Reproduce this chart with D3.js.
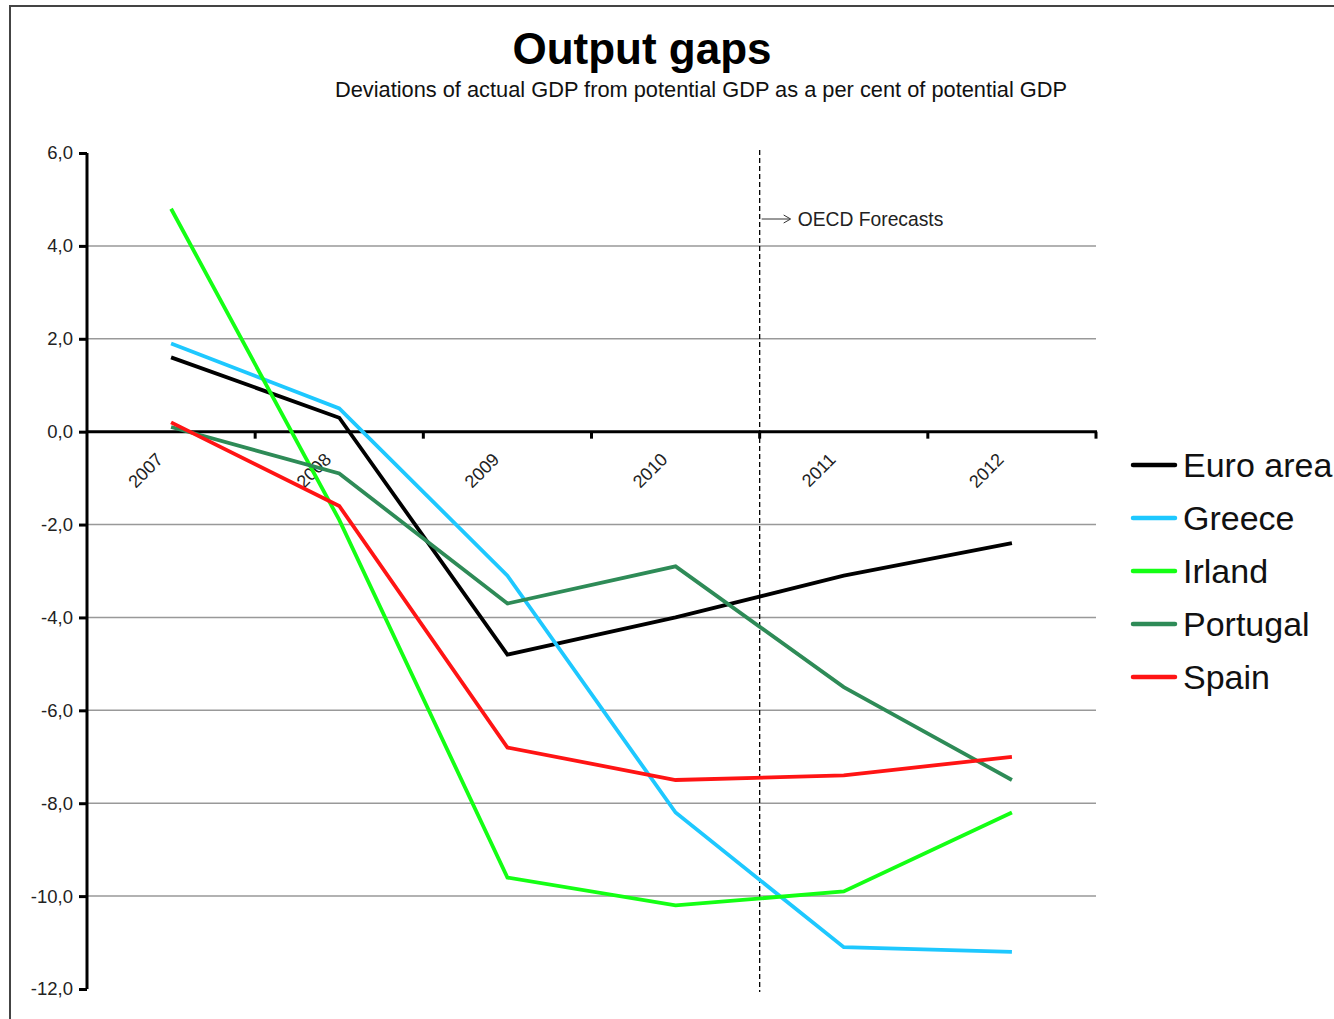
<!DOCTYPE html>
<html>
<head>
<meta charset="utf-8">
<script src="https://cdn.jsdelivr.net/npm/d3@7"></script>
<style>
  html, body { margin: 0; padding: 0; background: #fff; }
  svg { display: block; font-family: "Liberation Sans", Arial, sans-serif; }
</style>
</head>
<body>
<svg id="chart" width="1334" height="1019"></svg>
<script>
// Output gaps, 2007-2012 (per cent of potential GDP)
const years = ["2007", "2008", "2009", "2010", "2011", "2012"];
const euroArea = [1.6, 0.3, -4.8, -4.0, -3.1, -2.4];
const greece   = [1.9, 0.5, -3.1, -8.2, -11.1, -11.2];
const irland   = [4.8, -1.9, -9.6, -10.2, -9.9, -8.2];
const portugal = [0.1, -0.9, -3.7, -2.9, -5.5, -7.5];
const spain    = [0.2, -1.6, -6.8, -7.5, -7.4, -7.0];
const seriesNames = ["Euro area", "Greece", "Irland", "Portugal", "Spain"];
const seriesColors = ["#000000", "#1ec8ff", "#14ff14", "#2e8b57", "#ff1414"];
const yTicks = [6, 4, 2, 0, -2, -4, -6, -8, -10, -12];
const forecastStart = "2011";

const series = [euroArea, greece, irland, portugal, spain].map((v, i) => ({
  name: seriesNames[i], color: seriesColors[i], values: v
}));

const svg = d3.select("#chart");

// outer frame
svg.append("rect")
  .attr("x", 10).attr("y", 6).attr("width", 1340).attr("height", 1030)
  .attr("fill", "none").attr("stroke", "#444").attr("stroke-width", 2);

// titles
svg.append("text").attr("x", 642).attr("y", 64).attr("text-anchor", "middle")
  .attr("font-size", 44).attr("font-weight", "bold").attr("fill", "#000")
  .text("Output gaps");
svg.append("text").attr("x", 701).attr("y", 97).attr("text-anchor", "middle")
  .attr("font-size", 21.8).attr("fill", "#111")
  .text("Deviations of actual GDP from potential GDP as a per cent of potential GDP");

const x = d3.scaleBand().domain(years).range([87, 1096]);
const y = d3.scaleLinear().domain([-12, 6]).range([989, 153]);
const xc = d => x(d) + x.bandwidth() / 2;

// horizontal grid lines
svg.append("g").selectAll("line")
  .data(yTicks.filter(t => t !== 0 && t !== 6 && t !== -12))
  .join("line")
  .attr("x1", 87).attr("x2", 1096)
  .attr("y1", d => y(d)).attr("y2", d => y(d))
  .attr("stroke", "#999").attr("stroke-width", 1.5);

// y axis
const yAxis = svg.append("g").attr("transform", "translate(87,0)")
  .call(d3.axisLeft(y).tickValues(yTicks).tickSize(8).tickPadding(6)
    .tickFormat(d => d3.format(".1f")(d).replace(".", ",").replace("−", "-")));
yAxis.attr("font-size", null).attr("font-family", null);
yAxis.select(".domain").attr("stroke", "#000").attr("stroke-width", 3)
  .attr("d", `M0,${y(6)}V${y(-12)}`);
yAxis.selectAll(".tick line").attr("stroke", "#000").attr("stroke-width", 3);
yAxis.selectAll(".tick text").attr("font-size", 18.5).attr("fill", "#222");

// x axis along zero, with ticks at category boundaries
const xAxisG = svg.append("g");
xAxisG.append("line").attr("x1", 87).attr("x2", 1097)
  .attr("y1", y(0)).attr("y2", y(0)).attr("stroke", "#000").attr("stroke-width", 3);
const boundaries = years.map(d => x(d)).concat([x(years[years.length - 1]) + x.bandwidth()]);
xAxisG.selectAll("line.tk").data(boundaries.slice(1)).join("line").attr("class", "tk")
  .attr("x1", d => d).attr("x2", d => d)
  .attr("y1", y(0)).attr("y2", y(0) + 7)
  .attr("stroke", "#000").attr("stroke-width", 3);
xAxisG.selectAll("text").data(years).join("text")
  .attr("transform", d => `translate(${xc(d) - 7},${y(0) + 29}) rotate(-45)`)
  .attr("text-anchor", "end").attr("font-size", 18).attr("fill", "#222")
  .text(d => d);

// forecast divider
const fx = x(forecastStart);
svg.append("line").attr("x1", fx).attr("x2", fx).attr("y1", 150).attr("y2", 992)
  .attr("stroke", "#000").attr("stroke-width", 1.3).attr("stroke-dasharray", "5,3");
svg.append("line").attr("x1", fx + 2).attr("x2", fx + 30).attr("y1", 219).attr("y2", 219)
  .attr("stroke", "#333").attr("stroke-width", 1);
svg.append("path").attr("d", `M${fx + 24},215 L${fx + 31},219 L${fx + 24},223`)
  .attr("fill", "none").attr("stroke", "#333").attr("stroke-width", 1);
svg.append("text").attr("x", fx + 38).attr("y", 226).attr("font-size", 19.3).attr("fill", "#222")
  .text("OECD Forecasts");

// series lines
const line = d3.line().x((d, i) => xc(years[i])).y(d => y(d));
svg.append("g").selectAll("path").data(series).join("path")
  .attr("d", d => line(d.values))
  .attr("fill", "none").attr("stroke", d => d.color).attr("stroke-width", 3.8)
  .attr("stroke-linejoin", "miter");

// legend
const legend = svg.append("g").selectAll("g").data(series).join("g")
  .attr("transform", (d, i) => `translate(1133,${465 + i * 53})`);
legend.append("line").attr("x1", 0).attr("x2", 42).attr("y1", 0).attr("y2", 0)
  .attr("stroke", d => d.color).attr("stroke-width", 4.5).attr("stroke-linecap", "round");
legend.append("text").attr("x", 50).attr("y", 12).attr("font-size", 34).attr("fill", "#111")
  .text(d => d.name);
</script>
</body>
</html>
